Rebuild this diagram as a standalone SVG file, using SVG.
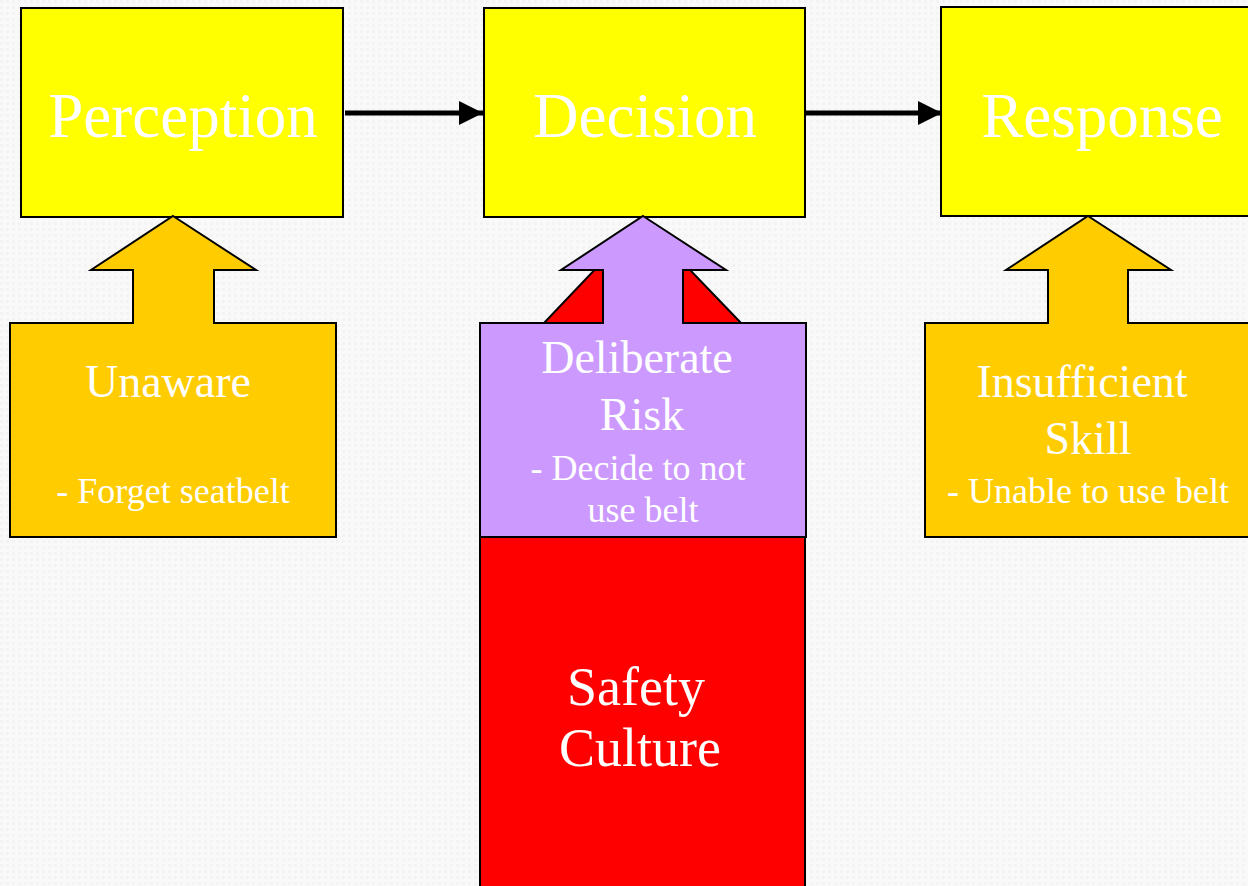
<svg xmlns="http://www.w3.org/2000/svg" width="1248" height="886" viewBox="0 0 1248 886">
<style>
.box{stroke:#000;stroke-width:2}
.yel{fill:#ffff00}
.org{fill:#ffcc00}
.pur{fill:#cc99ff}
.red{fill:#ff0000}
text{font-family:"Liberation Serif","Times New Roman",serif;fill:#fff;text-anchor:middle}
.big{font-size:63px}
.mid{font-size:46px}
.sm{font-size:36px}
.sc{font-size:54px}
.conn{stroke:#000;stroke-width:5;fill:none}
</style>
<defs>
<pattern id="bg" width="6" height="6" patternUnits="userSpaceOnUse">
<rect width="6" height="6" fill="#f9f9f9"/>
<rect width="3" height="3" fill="#f3f3f3"/>
</pattern>
<marker id="ah" markerWidth="24" markerHeight="24" refX="24" refY="12" orient="auto" markerUnits="userSpaceOnUse">
<path d="M0,0 L24,12 L0,24 Z" fill="#000"/>
</marker>
</defs>
<rect width="1248" height="886" fill="url(#bg)"/>

<g id="safety-culture">
<polygon class="box red" points="642,220 741,323 805,390 805,900 480,900 480,390 544,323"/>
<text class="sc" x="636" y="705">Safety</text>
<text class="sc" x="640" y="766">Culture</text>
</g>

<g id="perception">
<rect class="box yel" x="21" y="8" width="322" height="209"/>
<text class="big" x="183" y="137">Perception</text>
</g>
<g id="decision">
<rect class="box yel" x="484" y="8" width="321" height="209"/>
<text class="big" x="645" y="137">Decision</text>
</g>
<g id="response">
<rect class="box yel" x="941" y="7" width="320" height="209"/>
<text class="big" x="1102" y="137">Response</text>
</g>

<g id="connectors">
<line class="conn" x1="345" y1="113" x2="483" y2="113" marker-end="url(#ah)"/>
<line class="conn" x1="806" y1="113" x2="942" y2="113" marker-end="url(#ah)"/>
</g>

<g id="unaware">
<polygon class="box org" points="173,216 256,270 214,270 214,323 336,323 336,537 10,537 10,323 133,323 133,270 91,270"/>
<text class="mid" x="168" y="397">Unaware</text>
<text class="sm" x="173" y="503">- Forget seatbelt</text>
</g>

<g id="deliberate-risk">
<polygon class="box pur" points="643,216 726,270 683,270 683,323 806,323 806,537 480,537 480,323 603,323 603,270 561,270"/>
<text class="mid" x="637" y="373">Deliberate</text>
<text class="mid" x="642" y="430">Risk</text>
<text class="sm" x="638" y="480">- Decide to not</text>
<text class="sm" x="643" y="522">use belt</text>
</g>

<g id="insufficient-skill">
<polygon class="box org" points="1088,216 1171,270 1128,270 1128,323 1260,323 1260,537 925,537 925,323 1048,323 1048,270 1006,270"/>
<text class="mid" x="1082" y="397">Insufficient</text>
<text class="mid" x="1088" y="454">Skill</text>
<text class="sm" x="1088" y="503">- Unable to use belt</text>
</g>
</svg>
